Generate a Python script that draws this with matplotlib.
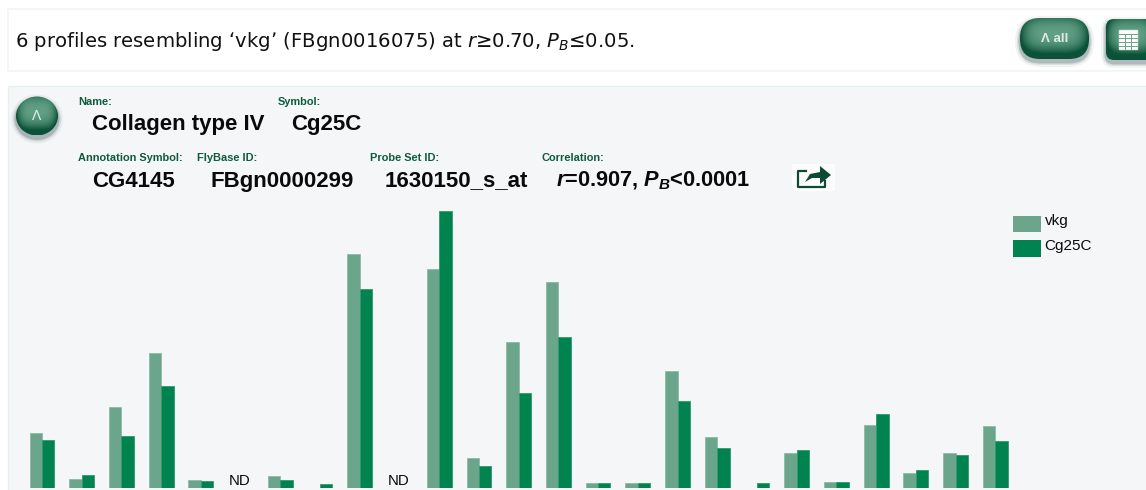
import numpy as np
from matplotlib import pyplot as plt
from matplotlib.patches import FancyBboxPatch, Rectangle, Polygon, Ellipse

plt.rcParams['font.family'] = ['Liberation Sans', 'DejaVu Sans']
plt.rcParams['mathtext.fontset'] = 'custom'
plt.rcParams['mathtext.rm'] = 'Liberation Sans:bold'
plt.rcParams['mathtext.it'] = 'Liberation Sans:italic:bold'
plt.rcParams['mathtext.bf'] = 'Liberation Sans:bold'

# bar heights, nan = ND
vkg = [55, 9, 81, 135, 8, np.nan, 12, 0, 233.5, np.nan, 218.5, 30, 146,
       205.5, 5, 5, 117, 50.5, 0, 35, 6, 63, 14.5, 35, 61.5]
cg25c = [48, 13, 52, 102, 6.5, np.nan, 8, 4, 198.5, np.nan, 276.5, 21.5, 95,
         150.5, 5, 5, 86.5, 39.5, 5, 38, 6, 74, 17.5, 33, 46.5]
series_names = ['vkg', 'Cg25C']

LIGHT = '#6ba58c'
DARK = '#00834f'
LABEL = '#0d5c3c'
W, H = 1146, 490

fig = plt.figure(figsize=(W / 100, H / 100), dpi=100, facecolor='white')

# page furniture, drawn in pixel coordinates
bg = fig.add_axes([0, 0, 1, 1])
bg.set_xlim(0, W)
bg.set_ylim(H, 0)
bg.axis('off')


def shade(shape, x, y, w, h, mid='#62a086', edge='#0b5238'):
    c1 = np.array([int(mid[i:i + 2], 16) for i in (1, 3, 5)]) / 255
    c2 = np.array([int(edge[i:i + 2], 16) for i in (1, 3, 5)]) / 255
    u, v = np.meshgrid(np.linspace(-1, 1, 80), np.linspace(-1, 1, 80))
    d = np.clip((np.abs(u) ** 4 + np.abs(v + 0.25) ** 2.2) ** 0.5, 0, 1)[:, :, None]
    img = c1 * (1 - d ** 2) + c2 * d ** 2
    im = bg.imshow(img, extent=(x, x + w, y + h, y), aspect='auto', zorder=3)
    im.set_clip_path(shape)


def rounded_button(x, y, w, h, rad):
    for grow, alpha in [(5, 0.05), (3, 0.1), (1.5, 0.2)]:
        bg.add_patch(FancyBboxPatch((x - grow, y - grow + 3), w + 2 * grow, h + 2 * grow,
                                    boxstyle='round,pad=0,rounding_size=%f' % (rad + grow),
                                    fc='#0c2a30', ec='none', alpha=alpha))
    shape = FancyBboxPatch((x, y), w, h, boxstyle='round,pad=0,rounding_size=%f' % rad,
                           fc='none', ec='none')
    bg.add_patch(shape)
    shade(shape, x, y, w, h)


def round_button(cx, cy, w, h):
    for grow, alpha in [(5, 0.05), (3, 0.1), (1.5, 0.2)]:
        bg.add_patch(Ellipse((cx, cy + 3), w + 2 * grow, h + 2 * grow,
                             fc='#0c2a30', ec='none', alpha=alpha))
    shape = Ellipse((cx, cy), w, h, fc='none', ec='none')
    bg.add_patch(shape)
    shade(shape, cx - w / 2, cy - h / 2, w, h)


bg.add_patch(Rectangle((8, 9), W, 62, fc='white', ec='#f2f5f4', lw=1.2))
bg.add_patch(Rectangle((8, 86), W, H, fc='#f4f6f7', ec='#e6f1ed', lw=1))

rounded_button(1020, 18, 69, 41, 20)
rounded_button(1106, 19, 50, 41, 8)
round_button(37, 116, 42, 39)
bg.set_xlim(0, W)
bg.set_ylim(H, 0)

bg.text(1055, 39, 'Λ all', color='#dfeae4', fontsize=9.5, fontweight='bold',
        ha='center', va='center', zorder=5)
bg.text(37, 116, 'Λ', color='#e8f1ec', fontsize=10, ha='center', va='center', zorder=5)

# table icon
bg.add_patch(Rectangle((1119, 30), 18, 19, fc='white', ec='#e8f1ec', lw=1, zorder=5))
for yy in [34, 38, 42, 46]:
    bg.plot([1119, 1137], [yy, yy], color='#6ea58c', lw=0.7, zorder=6)
for xx in [1125, 1131]:
    bg.plot([xx, xx], [34, 49], color='#6ea58c', lw=0.7, zorder=6)

# share icon
bg.add_patch(Rectangle((792, 164), 43, 27, fc='#fcfcfc', ec='none'))
bg.plot([806, 798, 798, 825, 825], [171, 171, 187.5, 187.5, 181], color='#0d4a33', lw=1.6)
bg.add_patch(Polygon([[805, 182], [810, 174], [820, 172], [820, 166], [831, 175],
                      [820, 184], [820, 178], [812, 178]], fc='#0d4a33', ec='none'))

bg.text(15, 41.5, '6 profiles resembling ‘vkg’ (FBgn0016075) at $\\mathit{r}$≥0.70, '
        '$\\mathit{P_B}$≤0.05.', family='DejaVu Sans', fontsize=14.1, color='#111111',
        va='center', math_fontfamily='dejavusans')

small = [('Name:', 78, 102), ('Symbol:', 278, 102), ('Annotation Symbol:', 78, 158),
         ('FlyBase ID:', 197, 158), ('Probe Set ID:', 370, 158), ('Correlation:', 542, 158)]
for s, x, y in small:
    bg.text(x, y, s, fontsize=7.9, fontweight='bold', color=LABEL, va='center')

big = [('Collagen type IV', 92, 124), ('Cg25C', 291, 124), ('CG4145', 92, 181),
       ('FBgn0000299', 211, 181), ('1630150_s_at', 385, 181)]
for s, x, y in big:
    bg.text(x, y, s, fontsize=16, fontweight='bold', color='#0a0a0a', va='center')
bg.text(556, 181, '$\\mathit{r}$=0.907, $\\mathit{P_B}$<0.0001', fontsize=15.7,
        fontweight='bold', color='#0a0a0a', va='center', math_fontfamily='custom')

# the bars
ax = fig.add_axes([10 / W, (H - 487.5) / H, (W - 10) / W, 280 / H])
ax.patch.set_alpha(0)
pos = np.arange(len(vkg))
step = 39.72
ax.set_xlim((10 - 42) / step, (W - 42) / step)
ax.set_ylim(0, 280)
bw = 12.4 / step
ax.bar(pos - bw / 2, vkg, bw, color=LIGHT, edgecolor='#8dbba7', linewidth=0.6, label=series_names[0])
ax.bar(pos + bw / 2, cg25c, bw, color=DARK, edgecolor='#2f9a6e', linewidth=0.6, label=series_names[1])
for i in pos:
    if np.isnan(vkg[i]):
        ax.text(i - 0.03, 7, 'ND', ha='center', va='center', fontsize=10.8, color='#0a0a0a')
ax.axis('off')

# legend
for name, col, y0, h, ty in [(series_names[0], LIGHT, 216, 16, 221), (series_names[1], DARK, 240, 17, 246)]:
    bg.add_patch(Rectangle((1013, y0), 28, h, fc=col, ec='none'))
    bg.text(1044.5, ty, name, fontsize=11, color='#0a0a0a', va='center')

fig.savefig('out.png', dpi=100)
